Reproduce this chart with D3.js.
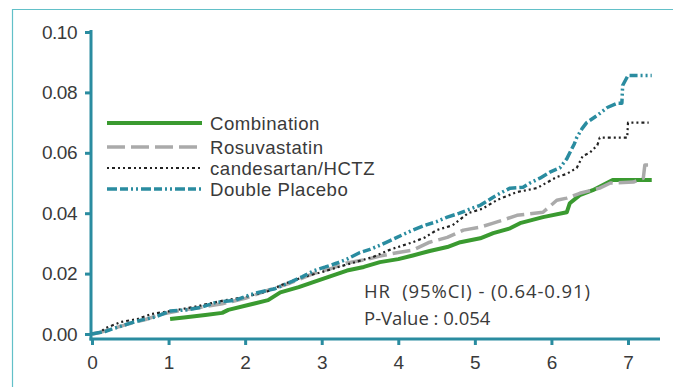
<!DOCTYPE html>
<html>
<head>
<meta charset="utf-8">
<script src="https://cdn.jsdelivr.net/npm/d3@7"></script>
<style>
  html, body { margin: 0; padding: 0; background: #fff; }
  svg { display: block; font-family: "Open Sans", sans-serif; }
</style>
</head>
<body>
<svg id="chart" width="673" height="387"></svg>
<script>
// ---- data ----
const xTicks = [0, 1, 2, 3, 4, 5, 6, 7];
const yTicks = [0, 0.02, 0.04, 0.06, 0.08, 0.10];

const seriesNames = ["Combination", "Rosuvastatin", "candesartan/HCTZ", "Double Placebo"];

const combinationT = [1.02,1.2,1.48,1.7,1.78,2.04,2.3,2.46,2.7,2.89,3.1,3.33,3.55,3.76,4.0,4.19,4.41,4.64,4.81,5.07,5.24,5.46,5.59,5.89,6.2,6.24,6.37,6.54,6.8,7.31];
const combinationV = [0.005,0.0055,0.0063,0.007,0.008,0.0096,0.0112,0.0138,0.0155,0.0172,0.019,0.021,0.0222,0.0238,0.0248,0.026,0.0275,0.0288,0.0304,0.0317,0.0334,0.035,0.0367,0.0387,0.0403,0.0433,0.046,0.0476,0.051,0.051];

const rosuvastatinT = [0,0.1,0.3,0.5,0.7,0.9,1.1,1.4,1.7,2.0,2.3,2.59,2.89,3.1,3.33,3.55,3.76,4.0,4.19,4.41,4.64,4.85,5.07,5.24,5.4,5.55,5.89,6.07,6.2,6.37,6.63,6.77,7.07,7.2,7.22,7.31];
const rosuvastatinV = [0,0.0005,0.002,0.0035,0.0048,0.0065,0.0075,0.0088,0.01,0.0118,0.0145,0.0169,0.02,0.0215,0.0235,0.0245,0.0258,0.027,0.0278,0.0304,0.032,0.0344,0.0354,0.0367,0.038,0.0393,0.0403,0.0443,0.045,0.0466,0.0483,0.05,0.0503,0.0516,0.056,0.056];

const candesartanT = [0,0.1,0.18,0.38,0.6,0.77,1.0,1.3,1.5,1.74,2.0,2.3,2.5,2.75,3.0,3.3,3.67,3.9,4.19,4.35,4.5,4.71,4.91,5.1,5.3,5.55,5.81,6.07,6.2,6.33,6.41,6.5,6.6,6.63,6.99,7.0,7.27];
const candesartanV = [0,0.0005,0.002,0.004,0.005,0.0066,0.0075,0.0088,0.0099,0.0112,0.0122,0.0142,0.0165,0.0188,0.0205,0.0228,0.0255,0.028,0.0304,0.032,0.0344,0.036,0.04,0.0415,0.0445,0.047,0.0483,0.052,0.053,0.055,0.059,0.06,0.0625,0.065,0.065,0.07,0.07];

const placeboT = [0,0.08,0.17,0.28,0.38,0.5,0.64,0.82,0.92,1.02,1.25,1.42,1.61,1.87,2.0,2.13,2.39,2.5,2.62,2.75,2.9,3.05,3.2,3.33,3.5,3.63,3.76,3.9,4.05,4.19,4.35,4.5,4.64,4.8,4.95,5.07,5.24,5.36,5.46,5.63,5.72,5.85,5.98,6.11,6.2,6.24,6.3,6.33,6.4,6.46,6.6,6.73,6.86,6.92,6.93,7.0,7.31];
const placeboV = [0,0.0004,0.0008,0.0018,0.0026,0.0036,0.0046,0.0056,0.0066,0.0076,0.008,0.0088,0.0104,0.0112,0.0124,0.0135,0.015,0.0162,0.0175,0.019,0.021,0.0222,0.0235,0.0248,0.027,0.028,0.0294,0.031,0.0328,0.0344,0.036,0.0372,0.0387,0.04,0.0415,0.0426,0.0453,0.047,0.0483,0.0486,0.05,0.0516,0.0536,0.055,0.058,0.06,0.063,0.065,0.068,0.07,0.0724,0.075,0.0764,0.0764,0.0823,0.0856,0.0856];

const annotationLines = ["HR  (95%CI) - (0.64-0.91)", "P-Value : 0.054"];

// ---- build ----
const svg = d3.select("#chart");
const teal = "#2a8ca0";
const textColor = "#3a3a3a";

const x = d3.scaleLinear().domain([0, 7]).range([92, 628]);
const y = d3.scaleLinear().domain([0, 0.1]).range([334, 32]);

// outer frame
svg.append("path")
  .attr("d", "M12.5,387 L12.5,9.5 L673,9.5")
  .attr("fill", "none").attr("stroke", "#62c0c8").attr("stroke-width", 1.2);

const series = [
  { name: seriesNames[0], t: combinationT, v: combinationV, color: "#3a9a30", width: 4, dash: null },
  { name: seriesNames[1], t: rosuvastatinT, v: rosuvastatinV, color: "#aaaaaa", width: 3.5, dash: "18,6" },
  { name: seriesNames[2], t: candesartanT, v: candesartanV, color: "#222222", width: 2.2, dash: "2,3,3,3,2,3" },
  { name: seriesNames[3], t: placeboT, v: placeboV, color: teal, width: 3.5, dash: "10,3,8,3,2,3,2,3" }
];

const line = d3.line()
  .x(d => x(d[0]))
  .y(d => y(d[1]))
  .curve(d3.curveLinear);

svg.append("g").selectAll("path")
  .data(series)
  .join("path")
  .attr("d", s => line(s.t.map((t, i) => [t, s.v[i]])))
  .attr("fill", "none")
  .attr("stroke", s => s.color)
  .attr("stroke-width", s => s.width)
  .attr("stroke-linejoin", "round")
  .attr("stroke-dasharray", s => s.dash);

// axes
const yAxis = svg.append("g").attr("transform", "translate(91,0)")
  .call(d3.axisLeft(y).tickValues(yTicks).tickFormat(d3.format(".2f")).tickSize(6).tickSizeOuter(0).tickPadding(8));
yAxis.select(".domain").remove();
yAxis.selectAll(".tick line").attr("stroke", teal).attr("stroke-width", 3);
yAxis.selectAll(".tick text").attr("fill", textColor).style("font-size", "19px").style("letter-spacing", "-0.5px");

const xAxis = svg.append("g").attr("transform", "translate(0,339)")
  .call(d3.axisBottom(x).tickValues(xTicks).tickFormat(d3.format("d")).tickSize(6).tickSizeOuter(0).tickPadding(11));
xAxis.select(".domain").remove();
xAxis.selectAll(".tick line").attr("stroke", teal).attr("stroke-width", 3);
xAxis.selectAll(".tick text").attr("fill", textColor).style("font-size", "19px");

// axis lines
svg.append("line").attr("x1", 91).attr("x2", 91).attr("y1", 30).attr("y2", 340.5)
  .attr("stroke", teal).attr("stroke-width", 3);
svg.append("line").attr("x1", 89.5).attr("x2", 660).attr("y1", 339).attr("y2", 339)
  .attr("stroke", teal).attr("stroke-width", 3);

// legend
const legendY = [123, 147, 168, 189];
const lg = svg.append("g");
series.forEach((s, i) => {
  lg.append("line").attr("x1", 107).attr("x2", 202).attr("y1", legendY[i]).attr("y2", legendY[i])
    .attr("stroke", s.color).attr("stroke-width", s.width).attr("stroke-dasharray", s.dash);
  lg.append("text").attr("x", 210).attr("y", legendY[i]).attr("dy", "0.36em")
    .attr("fill", textColor)
    .style("font-family", "'Liberation Sans', Arial, sans-serif")
    .style("font-size", "18.6px").style("letter-spacing", "0.5px").text(s.name);
});

// annotation
svg.append("text").attr("x", 364).attr("y", 298).attr("fill", textColor)
  .attr("xml:space", "preserve").attr("textLength", 226).attr("lengthAdjust", "spacing")
  .style("font-size", "18.5px").text(annotationLines[0]);
svg.append("text").attr("x", 364).attr("y", 325).attr("fill", textColor)
  .style("font-size", "18.5px").text(annotationLines[1]);
</script>
</body>
</html>
